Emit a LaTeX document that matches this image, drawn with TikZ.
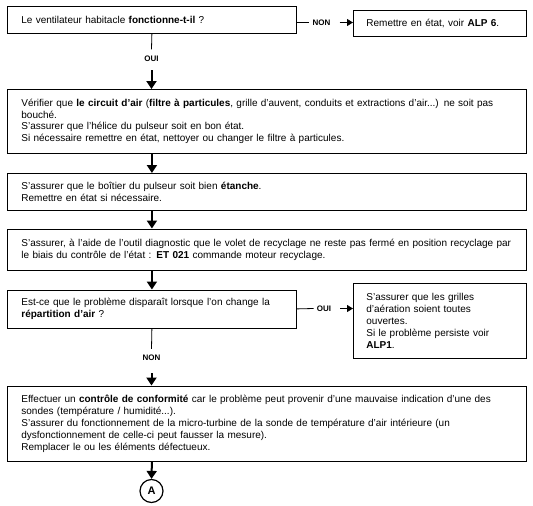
\documentclass[tikz,border=0pt]{standalone}
\usepackage{fontspec}
\setmainfont{Liberation Sans}
\usetikzlibrary{arrows.meta}

\tikzset{
  box/.style={draw, line width=0.8pt, anchor=north west, inner xsep=14pt, inner ysep=0pt, align=left, font=\fontsize{10}{11.9}\selectfont},
  sidebox/.style={box, inner xsep=13pt, text width=147pt},
  answer/.style={font=\bfseries\fontsize{8}{10}\selectfont, inner xsep=3pt, inner ysep=6pt},
  bigarrow/.style={line width=2pt, -{Triangle[length=8pt,width=10pt]}},
  smallarrow/.style={line width=0.8pt, -{Triangle[length=6pt,width=7pt]}},
  link/.style={line width=0.8pt}
}

\begin{document}
\begin{tikzpicture}[x=1pt,y=-1pt]
\useasboundingbox (0,0) rectangle (533,506);

\node[box, text width=261pt, minimum height=26.5pt] (ventil) at (7,6) {Le ventilateur habitacle \textbf{fonctionne-t-il} ?};
\node[sidebox, minimum height=26.5pt] (alp6) at (353,9.5) {Remettre en état, voir \textbf{ALP 6}.};

\node[box, text width=491pt, minimum height=64pt] (verif) at (7,89) {Vérifier que \textbf{le circuit d'air} (\textbf{filtre à particules}, grille d'auvent, conduits et extractions d'air...) ne soit pas\\
bouché.\\
S'assurer que l'hélice du pulseur soit en bon état.\\
Si nécessaire remettre en état, nettoyer ou changer le filtre à particules.};

\node[box, text width=491pt, minimum height=37pt] (etanche) at (7,173) {S'assurer que le boîtier du pulseur soit bien \textbf{étanche}.\\
Remettre en état si nécessaire.};

\node[box, text width=491pt, minimum height=41.5pt] (recycl) at (7,228.5) {S'assurer, à l'aide de l'outil diagnostic que le volet de recyclage ne reste pas fermé en position recyclage par\\
le biais du contrôle de l'état : \textbf{ET 021} commande moteur recyclage.};

\node[box, text width=261pt, minimum height=38pt] (repart) at (7,289.5) {Est-ce que le problème disparaît lorsque l'on change la\\
\textbf{répartition d'air} ?};
\node[sidebox, minimum height=75pt] (grilles) at (353,283) {S'assurer que les grilles\\
d'aération soient toutes\\
ouvertes.\\
Si le problème persiste voir\\
\textbf{ALP1}.};

\node[box, text width=491pt, minimum height=75.5pt] (conform) at (7,385.5) {Effectuer un \textbf{contrôle de conformité} car le problème peut provenir d'une mauvaise indication d'une des\\
sondes (température / humidité...).\\
S'assurer du fonctionnement de la micro-turbine de la sonde de température d'air intérieure (un\\
dysfonctionnement de celle-ci peut fausser la mesure).\\
Remplacer le ou les éléments défectueux.};

\node[circle, draw, line width=1.2pt, minimum size=23pt, inner sep=0pt, font=\bfseries\fontsize{11}{11}\selectfont] (A) at (151.5,491) {A};

% answers
\node[answer] (oui1) at (151.5,58.5) {OUI};
\node[answer] (non1) at (321.5,22.5) {NON};
\node[answer] (oui2) at (324,308.5) {OUI};
\node[answer] (non2) at (151.5,358) {NON};

% connectors
\draw[link] (ventil.south) -- (oui1.north);
\draw[bigarrow, shorten <=2.5pt] (oui1.south) -- (oui1.south |- verif.north);
\draw[link] (ventil.east |- non1) -- (non1.west);
\draw[smallarrow, shorten <=6pt] (non1.east) -- (non1 -| alp6.west);

\draw[bigarrow] (ventil.south |- verif.south) -- (ventil.south |- etanche.north);
\draw[bigarrow] (ventil.south |- etanche.south) -- (ventil.south |- recycl.north);
\draw[bigarrow] (ventil.south |- recycl.south) -- (repart.north);

\draw[link] (repart.east) -- (oui2.west);
\draw[smallarrow, shorten <=6pt] (oui2.east) -- (oui2 -| grilles.west);
\draw[link] (repart.south) -- (non2.north);
\draw[bigarrow, shorten <=6pt] (non2.south) -- (non2.south |- conform.north);

\draw[bigarrow] (ventil.south |- conform.south) -- (A.north);

\end{tikzpicture}
\end{document}
